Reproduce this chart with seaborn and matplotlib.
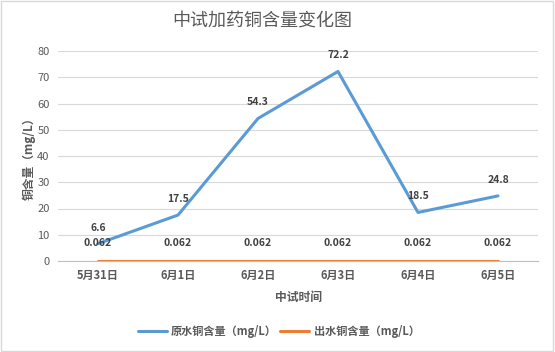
import matplotlib
matplotlib.use("Agg")
import matplotlib.pyplot as plt
import seaborn as sns
import pandas as pd
import numpy as np
from matplotlib.patches import Rectangle
from matplotlib.lines import Line2D

dates = ["5月31日", "6月1日", "6月2日", "6月3日", "6月4日", "6月5日"]
raw_cu = [6.6, 17.5, 54.3, 72.2, 18.5, 24.8]
out_cu = [0.062, 0.062, 0.062, 0.062, 0.062, 0.062]
raw_name = "原水铜含量（mg/L）"
out_name = "出水铜含量（mg/L）"
yticks = [0, 10, 20, 30, 40, 50, 60, 70, 80]

sns.set_theme(style="white")
plt.rcParams['font.family'] = ['Noto Sans CJK SC', 'DejaVu Sans']

df = pd.DataFrame({
    "date": dates * 2,
    "val": raw_cu + out_cu,
    "series": [raw_name] * len(dates) + [out_name] * len(dates),
})
df["x"] = list(range(len(dates))) * 2

fig = plt.figure(figsize=(5.55, 3.52), dpi=100)
ax = fig.add_axes([58/555, 1-261/352, 480/555, 210/352])

palette = {raw_name: "#5B9BD5", out_name: "#ED7D31"}
sns.lineplot(data=df, x="x", y="val", hue="series", palette=palette,
             linewidth=2.2, ax=ax, legend=False, sort=False)

ax.set_xlim(-0.5, len(dates) - 0.5)
ax.set_ylim(0, 80)
ax.set_yticks(yticks)
ax.set_yticklabels([str(t) for t in yticks], fontsize=8, color="#595959")
ax.set_xticks(range(len(dates)))
ax.set_xticklabels(dates, fontsize=8, color="#595959", fontweight="bold")
ax.tick_params(axis="x", which="major", length=0, pad=6)
ax.set_xticks(np.arange(-0.5, len(dates)), minor=True)
ax.tick_params(axis="x", which="minor", length=5, color="#BFBFBF", width=0.8)
ax.tick_params(axis="y", length=0, pad=6)
ax.grid(axis="y", color="#D9D9D9", linewidth=0.8)
ax.set_axisbelow(True)
for s in ["top", "right", "left"]:
    ax.spines[s].set_visible(False)
ax.spines["bottom"].set_color("#BFBFBF")
ax.spines["bottom"].set_linewidth(0.8)

for i, v in enumerate(raw_cu):
    ax.annotate(f"{v}", (i, v), xytext=(0, 8), textcoords="offset points",
                ha="center", va="bottom", fontsize=7.5, color="#404040", fontweight="bold")
for i, v in enumerate(out_cu):
    ax.annotate(f"{v}", (i, v), xytext=(0, 9), textcoords="offset points",
                ha="center", va="bottom", fontsize=7.5, color="#404040", fontweight="bold")

ax.set_xlabel("中试时间", fontsize=8.5, color="#595959", fontweight="bold", labelpad=6)
ax.set_ylabel("铜含量（mg/L）", fontsize=8.5, color="#595959", fontweight="bold", labelpad=1)

fig.suptitle("中试加药铜含量变化图", x=262/555, y=1-22/352, va="center",
             fontsize=13, color="#595959")

handles = [Line2D([], [], color=palette[raw_name], linewidth=2.2),
           Line2D([], [], color=palette[out_name], linewidth=2.2)]
leg = fig.legend(handles, [raw_name, out_name], loc="center",
                 bbox_to_anchor=(0.502, 1-331/352), ncol=2, frameon=False,
                 fontsize=8, handlelength=2.6, columnspacing=0.3, handletextpad=0.4)
for t in leg.get_texts():
    t.set_color("#595959")
    t.set_fontweight("bold")

fig.patches.append(Rectangle((0.002, 0.003), 0.995, 0.994, transform=fig.transFigure,
                             fill=False, edgecolor="#D9D9D9", linewidth=1))

fig.savefig("out.png", dpi=100)
